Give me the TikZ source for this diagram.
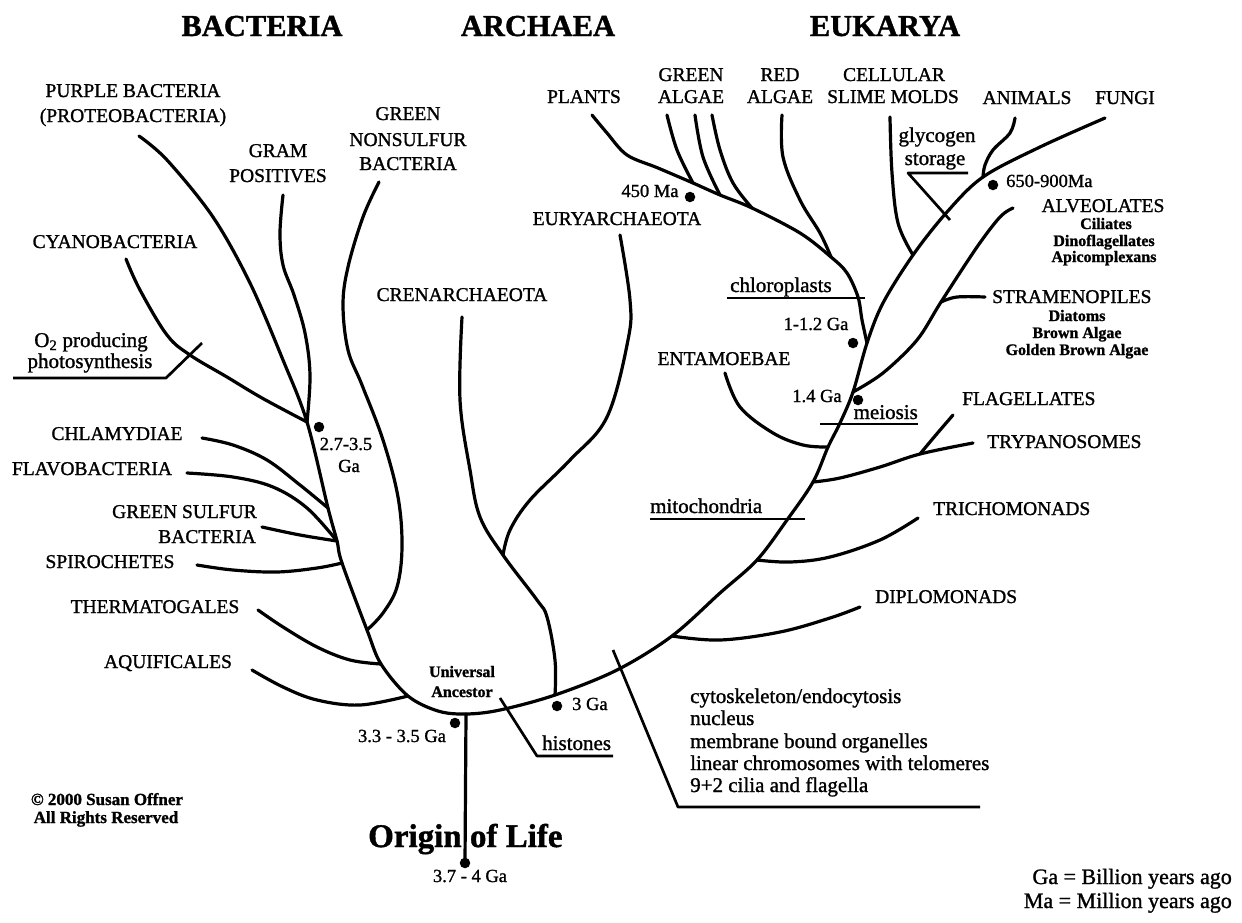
\documentclass[tikz,border=0pt]{standalone}
\usepackage{fontspec}
\setmainfont{Liberation Serif}[FakeBold=1.2]
\newcommand{\tfTitle}{\fontsize{30.5pt}{34pt}\selectfont\bfseries}
\newcommand{\tfOrig}{\fontsize{33pt}{36pt}\selectfont\bfseries}
\newcommand{\tfLab}{\fontsize{19.5pt}{22pt}\selectfont}
\newcommand{\tfAnn}{\fontsize{21pt}{23pt}\selectfont}
\newcommand{\tfSub}{\fontsize{16pt}{18pt}\selectfont\bfseries}
\newcommand{\tfDate}{\fontsize{18.5pt}{20pt}\selectfont}
\newcommand{\tfKey}{\fontsize{22pt}{24pt}\selectfont}
\newcommand{\tfCopy}{\fontsize{17pt}{18pt}\selectfont\bfseries}
\begin{document}
\begin{tikzpicture}[x=1pt,y=-1pt,
  brl/.style={line width=3.2pt, line cap=round, line join=round},
  ull/.style={line width=2.7pt, line join=round},
  bdot/.style={circle, fill=black, inner sep=0pt, minimum size=10.5pt},
  txc/.style={anchor=base, inner sep=0pt},
  txl/.style={anchor=base west, inner sep=0pt},
  txr/.style={anchor=base east, inner sep=0pt}]
\fill[white] (0,0) rectangle (1242,922);
\useasboundingbox (0,0) rectangle (1242,922);

% ---------- junction coordinates ----------
\coordinate (pStart) at (139,136);
\coordinate (jCy) at (307,422);
\coordinate (jCh) at (328,508);
\coordinate (jFG) at (337,541);
\coordinate (jSp) at (342,563);
\coordinate (jGN) at (367,630);
\coordinate (jTh) at (381,664);
\coordinate (jAq) at (408,696);
\coordinate (jOr) at (466,714);
\coordinate (jAr) at (555,695);
\coordinate (jCx) at (617,670);
\coordinate (jDi) at (672,636);
\coordinate (jTr) at (757,560);
\coordinate (jFT) at (813,482);
\coordinate (jEn) at (828,447);
\coordinate (jSt) at (853,392);
\coordinate (jSplit) at (867,343);
\coordinate (jSM) at (913,255);
\coordinate (jAn) at (983,177);
\coordinate (fEnd) at (1105,118);
\coordinate (jEu) at (503,555);
\coordinate (jFl2) at (920,454);
\coordinate (jRA) at (831,257);
\coordinate (jGA3) at (752,208);
\coordinate (jGA2) at (720,195);
\coordinate (jGA1) at (693,183);
\coordinate (jSm) at (941,302);

% ---------- backbone ----------
\draw[brl] plot[smooth, tension=0.55] coordinates {(pStart) (167,160) (213,217) (250,283) (283,360) (jCy) (jCh) (jFG) (jSp) (jGN) (jTh) (jAq) (438,711) (jOr) (500,710) (jAr) (jCx) (jDi) (720,593) (jTr) (787,520) (jFT) (jEn) (840,423) (jSt) (jSplit) (883,303) (jSM) (947,212) (jAn) (1040,147) (fEnd)};

% ---------- bacteria ----------
\draw[brl] plot[smooth, tension=0.6] coordinates {(283,195) (280,233) (283,265) (294,295) (305,333) (310,375) (jCy)};
\draw[brl] plot[smooth, tension=0.6] coordinates {(126,259) (140,290) (167,335) (190,355) (227,377) (262,398) (jCy)};
\draw[brl] plot[smooth, tension=0.6] coordinates {(379,182) (363,217) (348,267) (343,305) (348,350) (362,385) (383,440) (398,497) (402,547) (397,587) (383,613) (jGN)};
\draw[brl] plot[smooth, tension=0.6] coordinates {(202,438) (233,445) (267,460) (300,485) (jCh)};
\draw[brl] plot[smooth, tension=0.6] coordinates {(187,473) (233,477) (273,487) (307,508) (jFG)};
\draw[brl] plot[smooth, tension=0.6] coordinates {(262,527) (300,535) (jFG)};
\draw[brl] plot[smooth, tension=0.6] coordinates {(197,565) (233,570) (277,572) (317,568) (jSp)};
\draw[brl] plot[smooth, tension=0.6] coordinates {(258,610) (283,627) (317,647) (350,660) (jTh)};
\draw[brl] plot[smooth, tension=0.6] coordinates {(252,670) (283,687) (317,700) (360,705) (jAq)};

% ---------- archaea ----------
\draw[brl] plot[smooth, tension=0.6] coordinates {(462,317) (460,400) (470,470) (480,517) (jEu) (537,600) (547,617) (555,660) (jAr)};
\draw[brl] plot[smooth, tension=0.6] coordinates {(620,235) (630,300) (628,340) (607,417) (570,460) (530,500) (510,530) (jEu)};

% ---------- eukarya ----------
\draw[brl] plot[smooth, tension=0.6] coordinates {(860,607) (830,618) (780,632) (720,640) (jDi)};
\draw[brl] plot[smooth, tension=0.6] coordinates {(918,518) (880,540) (830,557) (790,562) (jTr)};
\draw[brl] plot[smooth, tension=0.6] coordinates {(973,443) (jFl2) (880,467) (840,478) (jFT)};
\draw[brl] plot[smooth, tension=0.6] coordinates {(953,415) (935,436) (jFl2)};
\draw[brl] plot[smooth, tension=0.6] coordinates {(725,373) (740,407) (773,433) (803,445) (jEn)};
\draw[brl] plot[smooth, tension=0.55] coordinates {(jSplit) (862,320) (858,297) (847,273) (jRA) (800,233) (jGA3) (jGA2) (jGA1) (658,168) (627,155) (607,133) (592,115)};
\draw[brl] plot[smooth, tension=0.6] coordinates {(667,115) (677,150) (jGA1)};
\draw[brl] plot[smooth, tension=0.6] coordinates {(695,115) (703,157) (jGA2)};
\draw[brl] plot[smooth, tension=0.6] coordinates {(712,115) (720,150) (733,183) (jGA3)};
\draw[brl] plot[smooth, tension=0.6] coordinates {(782,115) (783,157) (800,200) (820,233) (jRA)};
\draw[brl] plot[smooth, tension=0.6] coordinates {(890,117) (892,173) (898,223) (jSM)};
\draw[brl] plot[smooth, tension=0.6] coordinates {(1015,118) (1010,133) (993,150) (985,165) (jAn)};
\draw[brl] plot[smooth, tension=0.55] coordinates {(jSt) (883,373) (917,340) (jSm) (977,247) (1000,217) (1013,208)};
\draw[brl] plot[smooth, tension=0.6] coordinates {(jSm) (957,297) (985,297)};

% ---------- dots ----------
\node[bdot] (d450) at (690,197) {};
\node[bdot] (d650) at (993,185) {};
\node[bdot] (d11) at (853,343) {};
\node[bdot] (d14) at (858,400) {};
\node[bdot] (d27) at (319,427) {};
\node[bdot] (d33) at (455,723) {};
\node[bdot] (d3) at (557,706) {};
\node[bdot] (dOr) at (465,863) {};

% ---------- annotation lines ----------
\coordinate (o2a) at (13,378); \coordinate (o2b) at (166,378); \coordinate (o2c) at (202,343);
\draw[ull] (o2a) -- (o2b) -- (o2c);
\coordinate (chA) at (727,298); \coordinate (chB) at (865,298);
\draw[ull] (chA) -- (chB);
\coordinate (glA) at (968,173); \coordinate (glB) at (908,173); \coordinate (glC) at (950,220);
\draw[ull] (glA) -- (glB) -- (glC);
\coordinate (meA) at (820,424); \coordinate (meB) at (918,424);
\draw[ull] (meA) -- (meB);
\coordinate (miA) at (650,519); \coordinate (miB) at (805,519);
\draw[ull] (miA) -- (miB);
\coordinate (hiA) at (500,698); \coordinate (hiB) at (537,756); \coordinate (hiC) at (613,756);
\draw[ull] (hiA) -- (hiB) -- (hiC);
\coordinate (cyA) at (613,650); \coordinate (cyB) at (678,807); \coordinate (cyC) at (980,807);
\draw[ull] (cyA) -- (cyB) -- (cyC);
\draw[brl] (jOr) -- (dOr.center);

% ---------- titles ----------
\node[txc, font=\tfTitle] (tB) at (262,36) {BACTERIA};
\node[txc, font=\tfTitle] (tA) at (538,36) {ARCHAEA};
\node[txc, font=\tfTitle] (tE) at (885,36) {EUKARYA};

% ---------- bacteria labels ----------
\node[txc, font=\tfLab] (lP1) at (133,97) {PURPLE BACTERIA};
\node[txc, font=\tfLab] (lP2) at (133,122) {(PROTEOBACTERIA)};
\node[txc, font=\tfLab] (lG1) at (278,157) {GRAM};
\node[txc, font=\tfLab] (lG2) at (278,182) {POSITIVES};
\node[txc, font=\tfLab] (lN1) at (408,120) {GREEN};
\node[txc, font=\tfLab] (lN2) at (408,146) {NONSULFUR};
\node[txc, font=\tfLab] (lN3) at (408,170) {BACTERIA};
\node[txc, font=\tfLab] (lCy) at (115,248) {CYANOBACTERIA};
\node[txc, font=\tfAnn] (lO1) at (91,347) {O\textsubscript{2} producing};
\node[txc, font=\tfAnn] (lO2) at (90,368) {photosynthesis};
\node[txc, font=\tfLab] (lCh) at (117,440) {CHLAMYDIAE};
\node[txc, font=\tfLab] (lFl) at (92,475) {FLAVOBACTERIA};
\node[txr, font=\tfLab] (lS1) at (257,518) {GREEN SULFUR};
\node[txr, font=\tfLab] (lS2) at (256,543) {BACTERIA};
\node[txc, font=\tfLab] (lSp) at (110,568) {SPIROCHETES};
\node[txc, font=\tfLab] (lTh) at (155,613) {THERMATOGALES};
\node[txc, font=\tfLab] (lAq) at (168,668) {AQUIFICALES};
\node[txc, font=\tfDate] (l271) at (346,450) {2.7-3.5};
\node[txc, font=\tfDate] (l272) at (349,472) {Ga};

% ---------- archaea labels ----------
\node[txc, font=\tfLab] (lCr) at (462,301) {CRENARCHAEOTA};
\node[txc, font=\tfLab] (lEu) at (617,225) {EURYARCHAEOTA};

% ---------- eukarya labels ----------
\node[txc, font=\tfDate] (l450) at (650,197) {450 Ma};
\node[txc, font=\tfLab] (lPl) at (584,103) {PLANTS};
\node[txc, font=\tfLab] (lGA1) at (691,81) {GREEN};
\node[txc, font=\tfLab] (lGA2) at (691,103) {ALGAE};
\node[txc, font=\tfLab] (lRA1) at (780,81) {RED};
\node[txc, font=\tfLab] (lRA2) at (780,103) {ALGAE};
\node[txc, font=\tfLab] (lSM1) at (894,81) {CELLULAR};
\node[txc, font=\tfLab] (lSM2) at (893,103) {SLIME MOLDS};
\node[txc, font=\tfLab] (lAn) at (1027,104) {ANIMALS};
\node[txc, font=\tfLab] (lFu) at (1125,104) {FUNGI};
\node[txc, font=\tfAnn] (lGl1) at (937,142) {glycogen};
\node[txc, font=\tfAnn] (lGl2) at (935,165) {storage};
\node[txl, font=\tfDate] (l650) at (1006,187) {650-900Ma};
\node[txc, font=\tfLab] (lAl) at (1103,212) {ALVEOLATES};
\node[txc, font=\tfSub] (lAl1) at (1106,229) {Ciliates};
\node[txc, font=\tfSub] (lAl2) at (1104,246) {Dinoflagellates};
\node[txc, font=\tfSub] (lAl3) at (1104,262) {Apicomplexans};
\node[txl, font=\tfLab] (lSt) at (992,303) {STRAMENOPILES};
\node[txc, font=\tfSub] (lSt1) at (1077,321) {Diatoms};
\node[txc, font=\tfSub] (lSt2) at (1077,338) {Brown Algae};
\node[txc, font=\tfSub] (lSt3) at (1077,355) {Golden Brown Algae};
\node[txl, font=\tfAnn] (lChl) at (730,292) {chloroplasts};
\node[txc, font=\tfDate] (l11) at (816,330) {1-1.2 Ga};
\node[txc, font=\tfLab] (lEn) at (724,365) {ENTAMOEBAE};
\node[txc, font=\tfDate] (l14) at (817,402) {1.4 Ga};
\node[txr, font=\tfAnn] (lMe) at (918,419) {meiosis};
\node[txl, font=\tfLab] (lFg) at (962,405) {FLAGELLATES};
\node[txl, font=\tfLab] (lTy) at (987,448) {TRYPANOSOMES};
\node[txl, font=\tfAnn] (lMi) at (650,513) {mitochondria};
\node[txl, font=\tfLab] (lTc) at (933,515) {TRICHOMONADS};
\node[txl, font=\tfLab] (lDp) at (875,603) {DIPLOMONADS};

% ---------- root area ----------
\node[txc, font=\tfSub] (lU1) at (462,677) {Universal};
\node[txc, font=\tfSub] (lU2) at (462,697) {Ancestor};
\node[txl, font=\tfDate] (l3) at (572,710) {3 Ga};
\node[txc, font=\tfDate] (l33) at (402,742) {3.3 - 3.5 Ga};
\node[txl, font=\tfAnn] (lHi) at (542,750) {histones};
\node[txl, font=\tfAnn] (lF1) at (690,703) {cytoskeleton/endocytosis};
\node[txl, font=\tfAnn] (lF2) at (690,725) {nucleus};
\node[txl, font=\tfAnn] (lF3) at (690,748) {membrane bound organelles};
\node[txl, font=\tfAnn] (lF4) at (690,770) {linear chromosomes with telomeres};
\node[txl, font=\tfAnn] (lF5) at (690,792) {9+2 cilia and flagella};
\node[txl, font=\tfOrig] (lOr) at (368,847) {Origin of Life};
\node[txc, font=\tfDate] (l37) at (470,882) {3.7 - 4 Ga};
\node[txc, font=\tfCopy] (lC1) at (107,805) {\textcopyright\ 2000 Susan Offner};
\node[txc, font=\tfCopy] (lC2) at (106,823) {All Rights Reserved};
\node[txr, font=\tfKey] (lK1) at (1232,884) {Ga = Billion years ago};
\node[txr, font=\tfKey] (lK2) at (1232,908) {Ma = Million years ago};
\end{tikzpicture}
\end{document}
